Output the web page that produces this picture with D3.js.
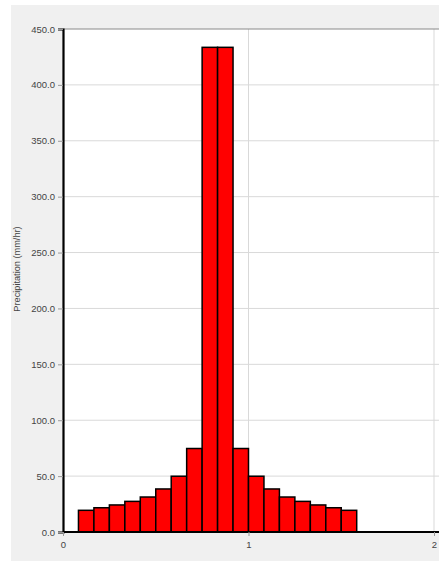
<!DOCTYPE html>
<html>
<head>
<meta charset="utf-8">
<script src="https://cdn.jsdelivr.net/npm/d3@7"></script>
<style>
  html, body { margin: 0; padding: 0; background: #fff; }
  svg { display: block; }
  text { font-family: "Liberation Sans", Arial, sans-serif; }
</style>
</head>
<body>
<script>
// Hyetograph: 5-minute precipitation intensities (mm/hr)
const binStart = [1, 2, 3, 4, 5, 6, 7, 8, 9, 10, 11, 12, 13, 14, 15, 16, 17, 18]; // in 1/12 hour steps
const intensity = [19.4, 21.7, 24.2, 27.4, 31.3, 38.5, 49.9, 74.7, 433.6,
                   433.6, 74.7, 49.9, 38.5, 31.3, 27.4, 24.2, 21.7, 19.4];
const yTicks = [0, 50, 100, 150, 200, 250, 300, 350, 400, 450];
const xTicks = [0, 1, 2];
const binWidth = 1 / 12;
const yTitle = "Precipitation (mm/hr)";

const W = 439, H = 562;
const svg = d3.select("body").append("svg").attr("width", W).attr("height", H);

// panel background
svg.append("rect").attr("x", 11).attr("y", 5).attr("width", W - 11).attr("height", 556).attr("fill", "#f0f0f0");

const plotL = 63, plotT = 29, plotB = 532;
const x = d3.scaleLinear().domain([0, 2]).range([plotL, 434]);
const y = d3.scaleLinear().domain([0, 450]).range([plotB, plotT]);

// plot area
svg.append("rect").attr("x", plotL).attr("y", plotT).attr("width", W - plotL + 5).attr("height", plotB - plotT).attr("fill", "#fff");

// grid
svg.append("g").selectAll("line").data(yTicks.slice(1, -1)).join("line")
  .attr("x1", plotL).attr("x2", W + 5).attr("y1", d => y(d)).attr("y2", d => y(d))
  .attr("stroke", "#d9d9d9").attr("stroke-width", 1);
svg.append("g").selectAll("line").data(xTicks.slice(1)).join("line")
  .attr("x1", d => x(d)).attr("x2", d => x(d)).attr("y1", plotT).attr("y2", plotB)
  .attr("stroke", "#d9d9d9").attr("stroke-width", 1);

// top border
svg.append("line").attr("x1", plotL).attr("x2", W + 5).attr("y1", plotT).attr("y2", plotT)
  .attr("stroke", "#8a8a8a").attr("stroke-width", 1.2);

// bars
svg.append("g").selectAll("rect").data(intensity).join("rect")
  .attr("x", (d, i) => x(binStart[i] * binWidth))
  .attr("width", (d, i) => x((binStart[i] + 1) * binWidth) - x(binStart[i] * binWidth))
  .attr("y", d => y(d))
  .attr("height", d => y(0) - y(d))
  .attr("fill", "#ff0000").attr("stroke", "#000").attr("stroke-width", 1.5);

// y axis
const yAxis = svg.append("g").attr("transform", `translate(${plotL},0)`)
  .call(d3.axisLeft(y).tickValues(yTicks).tickFormat(d3.format(".1f")).tickSize(5).tickPadding(3));
yAxis.select(".domain").attr("stroke", "#000").attr("stroke-width", 2.2);
yAxis.selectAll(".tick line").attr("stroke", "#999");
yAxis.selectAll(".tick text").attr("fill", "#444").attr("font-size", 9.5);

// x axis
const xAxis = svg.append("g").attr("transform", `translate(0,${plotB})`)
  .call(d3.axisBottom(x).tickValues(xTicks).tickFormat(d3.format("d")).tickSize(4).tickPadding(5));
xAxis.select(".domain").attr("d", `M${plotL},0H${W + 5}`).attr("stroke", "#000").attr("stroke-width", 2.2);
xAxis.selectAll(".tick line").attr("stroke", "#999");
xAxis.selectAll(".tick text").attr("fill", "#444").attr("font-size", 9.5);

// y title
svg.append("text").attr("transform", "translate(20,269) rotate(-90)")
  .attr("text-anchor", "middle").attr("fill", "#444").attr("font-size", 9.2).text(yTitle);
</script>
</body>
</html>
